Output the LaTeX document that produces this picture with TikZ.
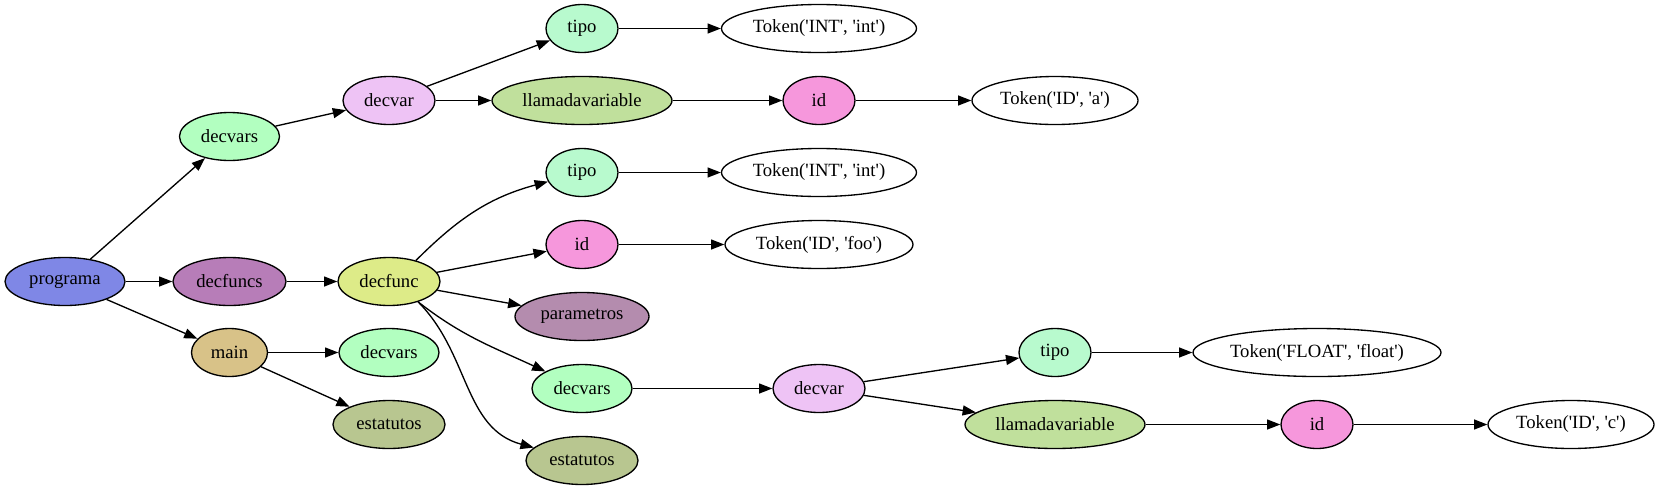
\documentclass[tikz,border=0pt]{standalone}
\usepackage{fontspec}
\setmainfont{Liberation Serif}
\usetikzlibrary{positioning, shapes.geometric, arrows.meta}
\definecolor{ProgBlue}{HTML}{7F87E6}
\definecolor{FuncsPurple}{HTML}{B77DB8}
\definecolor{VarsMint}{HTML}{B2FFC0}
\definecolor{FuncLime}{HTML}{DDEB88}
\definecolor{MainTan}{HTML}{D8C288}
\definecolor{StatOlive}{HTML}{B8C690}
\definecolor{VarLilac}{HTML}{EEC3F5}
\definecolor{TipoMint}{HTML}{B8FACE}
\definecolor{CallGreen}{HTML}{C0E09C}
\definecolor{IdPink}{HTML}{F697DC}
\definecolor{ParamMauve}{HTML}{B48CAE}
\newcommand{\sq}{\textquotesingle}

\tikzset{
  gnode/.style={ellipse, draw=black, line width=1.33pt, minimum height=48pt,
    inner sep=0pt, font=\rmfamily\fontsize{18.67}{22}\selectfont},
  nprog/.style={gnode, fill=ProgBlue, minimum width=120pt},
  nvars/.style={gnode, fill=VarsMint, minimum width=100pt},
  nfuncs/.style={gnode, fill=FuncsPurple, minimum width=113pt},
  nfunc/.style={gnode, fill=FuncLime, minimum width=102pt},
  nmain/.style={gnode, fill=MainTan, minimum width=76pt},
  nstat/.style={gnode, fill=StatOlive, minimum width=112pt},
  nvar/.style={gnode, fill=VarLilac, minimum width=92pt},
  ntipo/.style={gnode, fill=TipoMint, minimum width=72pt},
  ncall/.style={gnode, fill=CallGreen, minimum width=180pt},
  nid/.style={gnode, fill=IdPink, minimum width=72pt},
  nparam/.style={gnode, fill=ParamMauve, minimum width=134pt},
  ntoken/.style={gnode, fill=white},
  edge/.style={line width=1.33pt, -{Triangle[length=13.3pt, width=10pt]}}
}

\begin{document}
\begin{tikzpicture}[x=1pt, y=-1pt]
  \useasboundingbox (0,0) rectangle (1660,491);

  % column 0 and 1
  \node[nprog] (programa) at (65,281.5) {programa};
  \node[nvars] (decvarsA) at (229.5,136.5) {decvars};
  \node[nfuncs] (decfuncs) at (229.5,281.5) {decfuncs};
  \node[nmain] (main) at (229.5,352.5) {main};

  % column 2
  \node[nvar] (decvarA) at (389,100.5) {decvar};
  \node[nfunc] (decfunc) at (389,281.5) {decfunc};
  \node[nvars] (decvarsM) at (389,352.5) {decvars};
  \node[nstat] (estatutosM) at (389,424.5) {estatutos};

  % column 3
  \node[ntipo] (tipoA) at (582,28.5) {tipo};
  \node[ncall] (llamadaA) at (582,100.5) {llamadavariable};
  \node[ntipo] (tipoF) at (582,172.5) {tipo};
  \node[nid] (idF) at (582,244.5) {id};
  \node[nparam] (parametros) at (582,316.5) {parametros};
  \node[nvars] (decvarsF) at (582,388.5) {decvars};
  \node[nstat] (estatutosF) at (582,460.5) {estatutos};

  % column 4
  \node[ntoken, minimum width=195pt] (tokA) at (819,28.5) {Token(\sq INT\sq, \sq int\sq)};
  \node[nid] (idA) at (819,100.5) {id};
  \node[ntoken, minimum width=195pt] (tokF) at (819,172.5) {Token(\sq INT\sq, \sq int\sq)};
  \node[ntoken, minimum width=188pt] (tokFoo) at (819,244.5) {Token(\sq ID\sq, \sq foo\sq)};
  \node[nvar] (decvarF) at (819,388.5) {decvar};

  % columns 5 to 7
  \node[ntoken, minimum width=166pt] (tokIdA) at (1055,100.5) {Token(\sq ID\sq, \sq a\sq)};
  \node[ntipo] (tipoC) at (1055,352.5) {tipo};
  \node[ncall] (llamadaC) at (1055,424.5) {llamadavariable};
  \node[ntoken, minimum width=248pt] (tokFloat) at (1317,352.5) {Token(\sq FLOAT\sq, \sq float\sq)};
  \node[nid] (idC) at (1317,424.5) {id};
  \node[ntoken, minimum width=166pt] (tokIdC) at (1571,424.5) {Token(\sq ID\sq, \sq c\sq)};

  % straight edges
  \foreach \a/\b in {programa/decvarsA, programa/decfuncs, programa/main,
    decvarsA/decvarA, decvarA/tipoA, decvarA/llamadaA, tipoA/tokA,
    llamadaA/idA, idA/tokIdA, decfuncs/decfunc, decfunc/idF,
    decfunc/parametros, tipoF/tokF, idF/tokFoo, decvarsF/decvarF,
    decvarF/tipoC, decvarF/llamadaC, tipoC/tokFloat, llamadaC/idC,
    idC/tokIdC, main/decvarsM, main/estatutosM}
    \draw[edge] (\a) -- (\b);

  % curved edges out of decfunc
  \draw[edge] (decfunc.38) to[out=45, in=195] (tipoF);
  \draw[edge] (decfunc.-35) to[out=-38, in=155] (decvarsF);
  \draw[edge] (decfunc.-35) to[out=-45, in=165] (estatutosF);
\end{tikzpicture}
\end{document}
